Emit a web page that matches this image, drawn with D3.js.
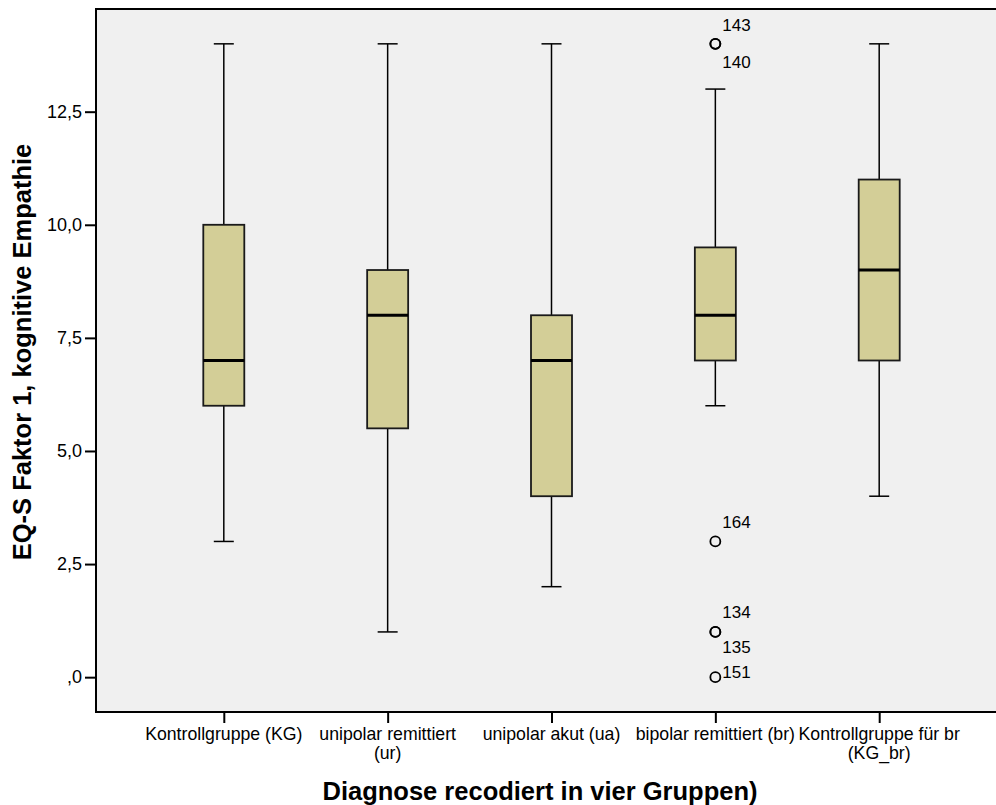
<!DOCTYPE html>
<html>
<head>
<meta charset="utf-8">
<script src="https://cdn.jsdelivr.net/npm/d3@7"></script>
<style>
  body { margin: 0; background: #fff; }
  svg { display: block; font-family: "Liberation Sans", Arial, sans-serif; }
</style>
</head>
<body>
<div id="chart"></div>
<script>
// Boxplot: EQ-S Faktor 1 by diagnosis group

// data
const groups = ["Kontrollgruppe (KG)", "unipolar remittiert (ur)", "unipolar akut (ua)", "bipolar remittiert (br)", "Kontrollgruppe für br (KG_br)"];
const groupLines = [["Kontrollgruppe (KG)"], ["unipolar remittiert", "(ur)"], ["unipolar akut (ua)"], ["bipolar remittiert (br)"], ["Kontrollgruppe für br", "(KG_br)"]];
const whiskerLow = [3, 1, 2, 6, 4];
const q1 = [6, 5.5, 4, 7, 7];
const medians = [7, 8, 7, 8, 9];
const q3 = [10, 9, 8, 9.5, 11];
const whiskerHigh = [14, 14, 14, 13, 14];

// outliers (all in the bipolar group)
const outlierGroup = ["bipolar remittiert (br)", "bipolar remittiert (br)", "bipolar remittiert (br)", "bipolar remittiert (br)", "bipolar remittiert (br)", "bipolar remittiert (br)"];
const outlierValues = [14, 14, 3, 1, 1, 0];
const outlierIds = ["143", "140", "164", "134", "135", "151"];

const yTicks = [0, 2.5, 5, 7.5, 10, 12.5];

const W = 996, H = 805;
const plot = { left: 96, right: 1007, top: 9, bottom: 712 };

const svg = d3.select("#chart").append("svg")
    .attr("width", W)
    .attr("height", H);

// scales
const x = d3.scalePoint()
    .domain(groups)
    .range([plot.left, plot.right])
    .padding(0.78);

const y = d3.scaleLinear()
    .domain([-0.77, 14.77])
    .range([plot.bottom, plot.top]);

// plot background
svg.append("rect")
    .attr("x", plot.left)
    .attr("y", plot.top)
    .attr("width", plot.right - plot.left)
    .attr("height", plot.bottom - plot.top)
    .attr("fill", "#f0f0f0");

// y axis
function fmt(v) {
    let s = d3.format(".1f")(v).replace(".", ",");
    if (s.startsWith("0,")) s = s.slice(1);
    return s;
}

const yAxis = svg.append("g")
    .attr("transform", "translate(" + plot.left + ",0)")
    .call(d3.axisLeft(y).tickValues(yTicks).tickFormat(fmt).tickSize(11).tickPadding(3));
yAxis.select(".domain").remove();
yAxis.selectAll(".tick line").attr("stroke", "#000").attr("stroke-width", 2);
yAxis.selectAll(".tick text")
    .attr("fill", "#000")
    .style("font-size", "18px")
    .style("font-family", "'Liberation Sans', Arial, sans-serif");

// x axis
const xAxis = svg.append("g")
    .attr("transform", "translate(0," + plot.bottom + ")")
    .call(d3.axisBottom(x).tickSize(11).tickFormat(""));
xAxis.select(".domain").remove();
xAxis.selectAll(".tick line").attr("stroke", "#000").attr("stroke-width", 2);

const catLabels = svg.append("g")
    .selectAll("text")
    .data(groups)
    .join("text")
    .attr("x", function(d){ return x(d); })
    .attr("y", 740)
    .attr("text-anchor", "middle")
    .style("font-size", "17.7px")
    .attr("fill", "#000");

catLabels.each(function(d, i){
    const t = d3.select(this);
    groupLines[i].forEach(function(line, j){
        t.append("tspan")
            .attr("x", x(d))
            .attr("dy", j === 0 ? 0 : 19)
            .text(line);
    });
});

// frame lines (left, top, bottom)
svg.append("path")
    .attr("d", "M" + (plot.right + 10) + "," + plot.top + "H" + plot.left + "V" + plot.bottom + "H" + (plot.right + 10))
    .attr("fill", "none")
    .attr("stroke", "#000")
    .attr("stroke-width", 2);

// boxes
const boxW = 41;
const capW = 20;

const boxes = svg.append("g")
    .selectAll("g")
    .data(groups)
    .join("g");

// whisker stems
boxes.append("line")
    .attr("x1", function(d){ return x(d); })
    .attr("x2", function(d){ return x(d); })
    .attr("y1", function(d, i){ return y(whiskerHigh[i]); })
    .attr("y2", function(d, i){ return y(q3[i]); })
    .attr("stroke", "#000")
    .attr("stroke-width", 1.5);

boxes.append("line")
    .attr("x1", function(d){ return x(d); })
    .attr("x2", function(d){ return x(d); })
    .attr("y1", function(d, i){ return y(q1[i]); })
    .attr("y2", function(d, i){ return y(whiskerLow[i]); })
    .attr("stroke", "#000")
    .attr("stroke-width", 1.5);

// caps
boxes.append("line")
    .attr("x1", function(d){ return x(d) - capW / 2; })
    .attr("x2", function(d){ return x(d) + capW / 2; })
    .attr("y1", function(d, i){ return y(whiskerHigh[i]); })
    .attr("y2", function(d, i){ return y(whiskerHigh[i]); })
    .attr("stroke", "#000")
    .attr("stroke-width", 1.5);

boxes.append("line")
    .attr("x1", function(d){ return x(d) - capW / 2; })
    .attr("x2", function(d){ return x(d) + capW / 2; })
    .attr("y1", function(d, i){ return y(whiskerLow[i]); })
    .attr("y2", function(d, i){ return y(whiskerLow[i]); })
    .attr("stroke", "#000")
    .attr("stroke-width", 1.5);

// box
boxes.append("rect")
    .attr("x", function(d){ return x(d) - boxW / 2; })
    .attr("y", function(d, i){ return y(q3[i]); })
    .attr("width", boxW)
    .attr("height", function(d, i){ return y(q1[i]) - y(q3[i]); })
    .attr("fill", "#d3ce97")
    .attr("stroke", "#1a1a1a")
    .attr("stroke-width", 1.8);

// median
boxes.append("line")
    .attr("x1", function(d){ return x(d) - boxW / 2; })
    .attr("x2", function(d){ return x(d) + boxW / 2; })
    .attr("y1", function(d, i){ return y(medians[i]); })
    .attr("y2", function(d, i){ return y(medians[i]); })
    .attr("stroke", "#000")
    .attr("stroke-width", 3);

// outliers
svg.append("g")
    .selectAll("circle")
    .data(outlierValues)
    .join("circle")
    .attr("cx", function(d, i){ return x(outlierGroup[i]); })
    .attr("cy", function(d){ return y(d); })
    .attr("r", 5)
    .attr("fill", "none")
    .attr("stroke", "#000")
    .attr("stroke-width", 1.8);

// label placement: first of a pair above, second below, lone one beside
const labelDy = { "143": -13, "140": 24, "164": -13, "134": -14, "135": 21, "151": 1 };

svg.append("g")
    .selectAll("text")
    .data(outlierValues)
    .join("text")
    .attr("x", function(d, i){ return x(outlierGroup[i]) + 7; })
    .attr("y", function(d, i){ return y(d) + labelDy[outlierIds[i]]; })
    .style("font-size", "17px")
    .attr("fill", "#000")
    .text(function(d, i){ return outlierIds[i]; });

// axis titles
svg.append("text")
    .attr("x", 540)
    .attr("y", 800)
    .attr("text-anchor", "middle")
    .style("font-size", "25.5px")
    .style("font-weight", "bold")
    .text("Diagnose recodiert in vier Gruppen)");

svg.append("text")
    .attr("transform", "translate(31,352) rotate(-90)")
    .attr("text-anchor", "middle")
    .style("font-size", "25.5px")
    .style("font-weight", "bold")
    .text("EQ-S Faktor 1, kognitive Empathie");
</script>
</body>
</html>
